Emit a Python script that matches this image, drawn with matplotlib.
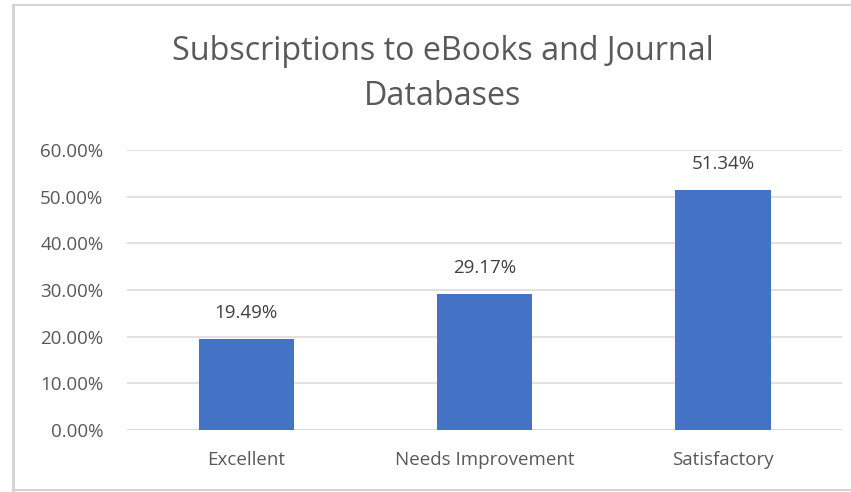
import matplotlib.pyplot as plt
from matplotlib.lines import Line2D
from matplotlib.ticker import FuncFormatter

categories = ["Excellent", "Needs Improvement", "Satisfactory"]
values = [0.1949, 0.2917, 0.5134]
title = "Subscriptions to eBooks and Journal\nDatabases"

plt.rcParams['font.family'] = ['Open Sans', 'DejaVu Sans']

W, H = 851, 492
fig = plt.figure(figsize=(W / 100, H / 100), dpi=100)
ax = fig.add_axes([127 / W, 1 - 430 / H, (842 - 127) / W, (430 - 150) / H])

x = range(len(categories))
ax.bar(x, values, width=0.40, color="#4472C4", zorder=3)
for xi, v in zip(x, values):
    ax.text(xi, v + 0.045, f"{v * 100:.2f}%", ha="center", va="baseline",
            fontsize=13.5, color="#404040")

ax.set_xlim(-0.5, 2.5)
ax.set_ylim(0, 0.6)
ax.set_yticks([i / 10 for i in range(7)])
ax.yaxis.set_major_formatter(FuncFormatter(lambda v, p: f"{v * 100:.2f}%"))
ax.set_xticks(list(x))
ax.set_xticklabels(categories)
ax.tick_params(length=0, labelsize=13.5, labelcolor="#595959")
ax.tick_params(axis="y", pad=17)
ax.tick_params(axis="x", pad=15)
ax.grid(axis="y", color="#d9d9d9", linewidth=1.1, zorder=0)
for s in ax.spines.values():
    s.set_visible(False)
ax.axhline(0, color="#d9d9d9", linewidth=1.1, zorder=2)

fig.text(443 / W, 1 - 74 / H, title, ha="center", va="center",
         fontsize=23.2, color="#595959", linespacing=1.45)

# chart frame
c = "#d4d4d4"
fig.add_artist(Line2D([13 / W, 13 / W], [1 - 5 / H, 1 - 490 / H], color=c, linewidth=2.2))
fig.add_artist(Line2D([13 / W, 1], [1 - 5 / H, 1 - 5 / H], color=c, linewidth=1.5))
fig.add_artist(Line2D([13 / W, 1], [1 - 490 / H, 1 - 490 / H], color=c, linewidth=1.5))

fig.savefig("out.png", dpi=100)
